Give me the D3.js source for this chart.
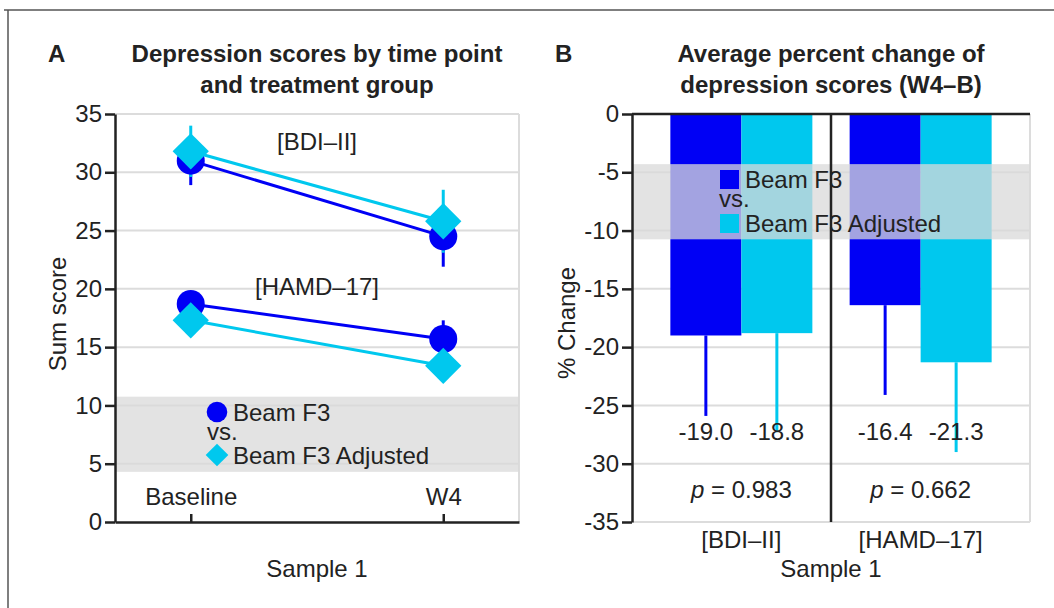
<!DOCTYPE html>
<html>
<head>
<meta charset="utf-8">
<script src="https://cdn.jsdelivr.net/npm/d3@7"></script>
<style>
  html, body { margin: 0; padding: 0; background: #fff; }
  svg { display: block; }
  text { font-family: "Liberation Sans", Arial, sans-serif; fill: #222; }
</style>
</head>
<body>
<div class="svg-container"></div>
<script>
// ---- data ----
const timePoints = ["Baseline", "W4"];
const groups = ["Beam F3", "Beam F3 Adjusted"];
const scaleNames = ["[BDI\u2013II]", "[HAMD\u201317]"];

// panel A: mean sum score and error, per time point
const bdiF3 = [31.0, 24.5];
const bdiF3Err = [2.1, 2.6];
const bdiAdj = [31.8, 25.8];
const bdiAdjErr = [2.2, 2.7];
const hamdF3 = [18.7, 15.7];
const hamdF3Err = [1.1, 1.6];
const hamdAdj = [17.3, 13.4];
const hamdAdjErr = [1.2, 1.3];
const ticksA = [0, 5, 10, 15, 20, 25, 30, 35];

// panel B: average percent change, per scale
const pctF3 = [-19.0, -16.4];
const pctF3Err = [6.9, 7.7];
const pctAdj = [-18.8, -21.3];
const pctAdjErr = [8.5, 7.7];
const pValues = ["0.983", "0.662"];
const ticksB = [0, -5, -10, -15, -20, -25, -30, -35];

const legendBand = [4.3, 10.75];

const colF3 = "#0000f5";
const colAdj = "#00c8ee";
const axisCol = "#222";
const gridCol = "#dcdcdc";
const fs = "24px";
const fontFam = "'Liberation Sans', Arial, sans-serif";

const width = 1054, height = 608;
const svg = d3.select(".svg-container").append("svg")
    .attr("width", width).attr("height", height)
    .attr("viewBox", "0 0 " + width + " " + height);

// outer frame
svg.append("path").attr("d", "M4,10H1054M8,10V608")
    .attr("fill", "none").attr("stroke", "#555").attr("stroke-width", 1.5);

// ================= PANEL A =================
const A = { left: 115, right: 519, top: 114, bottom: 522 };
const xA = d3.scalePoint().domain(timePoints).range([A.left, A.right]).padding(0.3);
const yA = d3.scaleLinear().domain([0, 35]).range([A.bottom, A.top]);
const gA = svg.append("g");

// grid
gA.selectAll(".grid").data(ticksA.filter(d => d > 0)).enter().append("line")
    .attr("x1", A.left).attr("x2", A.right)
    .attr("y1", d => yA(d)).attr("y2", d => yA(d))
    .attr("stroke", gridCol).attr("stroke-width", 2);
gA.append("line").attr("x1", A.right).attr("x2", A.right)
    .attr("y1", A.top).attr("y2", A.bottom)
    .attr("stroke", gridCol).attr("stroke-width", 2);

const seriesA = [
  { vals: bdiF3, err: bdiF3Err, col: colF3, shape: "circle" },
  { vals: bdiAdj, err: bdiAdjErr, col: colAdj, shape: "diamond" },
  { vals: hamdF3, err: hamdF3Err, col: colF3, shape: "circle" },
  { vals: hamdAdj, err: hamdAdjErr, col: colAdj, shape: "diamond" }
];
const line = d3.line().x((d, i) => xA(timePoints[i])).y(d => yA(d));

seriesA.forEach(s => {
  gA.append("path").datum(s.vals).attr("d", line)
      .attr("fill", "none").attr("stroke", s.col).attr("stroke-width", 3);
  gA.selectAll(null).data(s.vals).enter().append("line")
      .attr("x1", (d, i) => xA(timePoints[i])).attr("x2", (d, i) => xA(timePoints[i]))
      .attr("y1", (d, i) => yA(d - s.err[i])).attr("y2", (d, i) => yA(d + s.err[i]))
      .attr("stroke", s.col).attr("stroke-width", 3);
});
seriesA.forEach(s => {
  const sym = s.shape === "circle"
      ? d3.symbol().type(d3.symbolCircle).size(Math.PI * 14 * 14)
      : d3.symbol().type(d3.symbolDiamond2).size(2 * 20.5 * 20.5);
  gA.selectAll(null).data(s.vals).enter().append("path")
      .attr("d", sym)
      .attr("transform", (d, i) => "translate(" + xA(timePoints[i]) + "," + yA(d) + ")")
      .attr("fill", s.col);
});

// scale annotations
const midA = (xA(timePoints[0]) + xA(timePoints[1])) / 2;
gA.append("text").attr("x", midA).attr("y", yA(31.9)).attr("text-anchor", "middle")
    .style("font-size", fs).text(scaleNames[0]);
gA.append("text").attr("x", midA).attr("y", yA(19.5)).attr("text-anchor", "middle")
    .style("font-size", fs).text(scaleNames[1]);

// legend band + legend
gA.append("rect").attr("x", A.left).attr("width", A.right - A.left)
    .attr("y", yA(legendBand[1])).attr("height", yA(legendBand[0]) - yA(legendBand[1]))
    .attr("fill", "rgb(218,218,218)").attr("fill-opacity", 0.75);
gA.append("circle").attr("cx", 217).attr("cy", 412).attr("r", 10.3).attr("fill", colF3);
gA.append("path").attr("d", d3.symbol().type(d3.symbolDiamond2).size(2 * 12.8 * 12.8))
    .attr("transform", "translate(217,455)").attr("fill", colAdj);
gA.append("text").attr("x", 233).attr("y", 421).style("font-size", fs).text(groups[0]);
gA.append("text").attr("x", 207).attr("y", 440).style("font-size", fs).text("vs.");
gA.append("text").attr("x", 233).attr("y", 464).style("font-size", fs).text(groups[1]);

// axes
const yAxisA = gA.append("g").attr("transform", "translate(" + A.left + ",0)")
    .call(d3.axisLeft(yA).tickValues(ticksA).tickFormat(d => String(d))
        .tickSize(10).tickPadding(3).tickSizeOuter(0));
yAxisA.select(".domain").attr("stroke", axisCol).attr("stroke-width", 2.5);
yAxisA.selectAll(".tick line").attr("stroke", axisCol).attr("stroke-width", 2.5);
yAxisA.selectAll("text").style("font-size", fs).attr("fill", axisCol)
    .style("font-family", fontFam);

const xAxisA = gA.append("g").attr("transform", "translate(0," + A.bottom + ")")
    .call(d3.axisBottom(xA).tickSize(-8).tickSizeOuter(0).tickPadding(0));
xAxisA.select(".domain").attr("stroke", axisCol).attr("stroke-width", 2.5);
xAxisA.selectAll(".tick line").attr("stroke", axisCol).attr("stroke-width", 2.5);
xAxisA.selectAll("text").style("font-size", fs).attr("fill", axisCol)
    .style("font-family", fontFam)
    .attr("y", -17).attr("dy", 0);

gA.append("text").attr("transform", "translate(66,314) rotate(-90)")
    .attr("text-anchor", "middle").style("font-size", fs).text("Sum score");
gA.append("text").attr("x", (A.left + A.right) / 2).attr("y", 577)
    .attr("text-anchor", "middle").style("font-size", fs).text("Sample 1");

// titles
svg.append("text").attr("x", 48).attr("y", 62).style("font-size", "24px")
    .style("font-weight", "bold").text("A");
svg.append("text").attr("x", (A.left + A.right) / 2).attr("y", 62).attr("text-anchor", "middle")
    .style("font-size", "24px").style("font-weight", "bold").text("Depression scores by time point");
svg.append("text").attr("x", (A.left + A.right) / 2).attr("y", 93).attr("text-anchor", "middle")
    .style("font-size", "24px").style("font-weight", "bold").text("and treatment group");

// ================= PANEL B =================
const B = { left: 632, right: 1030, top: 114, bottom: 522 };
const xB = d3.scaleBand().domain(scaleNames).range([B.left, B.right])
    .paddingInner(0).paddingOuter(0.11);
const yB = d3.scaleLinear().domain([-35, 0]).range([B.bottom, B.top]);
const barW = 71;
const gB = svg.append("g");

gB.selectAll(".grid").data(ticksB.filter(d => d < 0)).enter().append("line")
    .attr("x1", B.left).attr("x2", B.right)
    .attr("y1", d => yB(d)).attr("y2", d => yB(d))
    .attr("stroke", gridCol).attr("stroke-width", 2);
gB.append("line").attr("x1", B.right).attr("x2", B.right)
    .attr("y1", B.top).attr("y2", B.bottom)
    .attr("stroke", gridCol).attr("stroke-width", 2);

const seriesB = [
  { vals: pctF3, err: pctF3Err, col: colF3, off: -1 },
  { vals: pctAdj, err: pctAdjErr, col: colAdj, off: 0 }
];
const cx = n => xB(n) + xB.bandwidth() / 2;

seriesB.forEach(s => {
  gB.selectAll(null).data(s.vals).enter().append("line")
      .attr("x1", (d, i) => cx(scaleNames[i]) + s.off * barW + barW / 2)
      .attr("x2", (d, i) => cx(scaleNames[i]) + s.off * barW + barW / 2)
      .attr("y1", d => yB(d)).attr("y2", (d, i) => yB(d - s.err[i]))
      .attr("stroke", s.col).attr("stroke-width", 3);
  gB.selectAll(null).data(s.vals).enter().append("rect")
      .attr("x", (d, i) => cx(scaleNames[i]) + s.off * barW)
      .attr("width", barW)
      .attr("y", yB(0)).attr("height", d => yB(d) - yB(0))
      .attr("fill", s.col);
  gB.selectAll(null).data(s.vals).enter().append("text")
      .attr("x", (d, i) => cx(scaleNames[i]) + s.off * barW + barW / 2)
      .attr("y", yB(-28)).attr("text-anchor", "middle")
      .style("font-size", fs).text(d => d.toFixed(1));
});

// p values
scaleNames.forEach((n, i) => {
  const t = gB.append("text").attr("x", cx(n)).attr("y", yB(-32.9))
      .attr("text-anchor", "middle").style("font-size", fs);
  t.append("tspan").style("font-style", "italic").text("p");
  t.append("tspan").text(" = " + pValues[i]);
});

// legend band + legend
gB.append("rect").attr("x", B.left).attr("width", B.right - B.left)
    .attr("y", yB(-legendBand[0])).attr("height", yB(-legendBand[1]) - yB(-legendBand[0]))
    .attr("fill", "rgb(218,218,218)").attr("fill-opacity", 0.75);
gB.append("rect").attr("x", 720).attr("y", 170).attr("width", 19).attr("height", 19).attr("fill", colF3);
gB.append("rect").attr("x", 720).attr("y", 214).attr("width", 19).attr("height", 19).attr("fill", colAdj);
gB.append("text").attr("x", 745).attr("y", 188).style("font-size", fs).text(groups[0]);
gB.append("text").attr("x", 719).attr("y", 207).style("font-size", fs).text("vs.");
gB.append("text").attr("x", 745).attr("y", 232).style("font-size", fs).text(groups[1]);

// divider between scales
gB.append("line").attr("x1", (cx(scaleNames[0]) + cx(scaleNames[1])) / 2)
    .attr("x2", (cx(scaleNames[0]) + cx(scaleNames[1])) / 2)
    .attr("y1", B.top).attr("y2", B.bottom)
    .attr("stroke", axisCol).attr("stroke-width", 2.5);

// axes
const yAxisB = gB.append("g").attr("transform", "translate(" + B.left + ",0)")
    .call(d3.axisLeft(yB).tickValues(ticksB).tickFormat(d => String(d))
        .tickSize(10).tickPadding(3).tickSizeOuter(0));
yAxisB.select(".domain").attr("stroke", axisCol).attr("stroke-width", 2.5);
yAxisB.selectAll(".tick line").attr("stroke", axisCol).attr("stroke-width", 2.5);
yAxisB.selectAll("text").style("font-size", fs).attr("fill", axisCol)
    .style("font-family", fontFam);
gB.append("line").attr("x1", B.left).attr("x2", B.right)
    .attr("y1", yB(0)).attr("y2", yB(0))
    .attr("stroke", axisCol).attr("stroke-width", 2.5);

const xAxisB = gB.append("g").attr("transform", "translate(0," + B.bottom + ")")
    .call(d3.axisBottom(xB).tickSize(0).tickPadding(0));
xAxisB.select(".domain").remove();
xAxisB.selectAll("text").style("font-size", fs).attr("fill", axisCol)
    .style("font-family", fontFam)
    .attr("y", 26).attr("dy", 0);

gB.append("text").attr("transform", "translate(575,323) rotate(-90)")
    .attr("text-anchor", "middle").style("font-size", fs).text("% Change");
gB.append("text").attr("x", (B.left + B.right) / 2).attr("y", 577)
    .attr("text-anchor", "middle").style("font-size", fs).text("Sample 1");

svg.append("text").attr("x", 555).attr("y", 62).style("font-size", "24px")
    .style("font-weight", "bold").text("B");
svg.append("text").attr("x", (B.left + B.right) / 2).attr("y", 62).attr("text-anchor", "middle")
    .style("font-size", "24px").style("font-weight", "bold").text("Average percent change of");
svg.append("text").attr("x", (B.left + B.right) / 2).attr("y", 93).attr("text-anchor", "middle")
    .style("font-size", "24px").style("font-weight", "bold").text("depression scores (W4\u2013B)");
</script>
</body>
</html>
